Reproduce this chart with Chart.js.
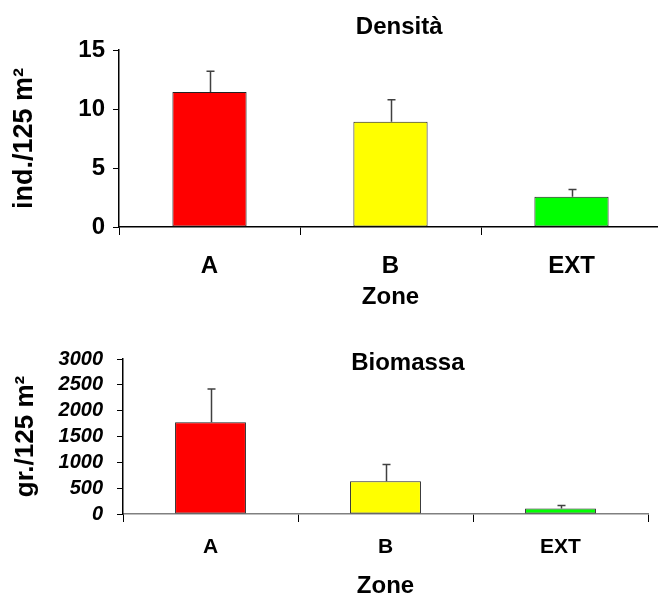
<!DOCTYPE html>
<html>
<head>
<meta charset="utf-8">
<script src="https://cdn.jsdelivr.net/npm/chart.js@4.4.1/dist/chart.umd.min.js"></script>
<style>
  html, body { margin: 0; padding: 0; background: #fff; overflow: hidden; width: 658px; height: 598px; }
  canvas { position: absolute; left: 0; }
  #c1 { top: 0; }
  #c2 { top: 315px; }
</style>
</head>
<body>
<canvas id="c1" width="665" height="315"></canvas>
<canvas id="c2" width="658" height="290"></canvas>
<script>
// ---- data ----
const zones = ['A', 'B', 'EXT'];
const barColors = ['#FF0000', '#FFFF00', '#00FF00'];

const densitaMean = [11.45, 8.92, 2.57];
const densitaErr  = [1.75, 1.86, 0.61];
const densitaTicks = [0, 5, 10, 15];

const biomassaMean = [1778, 634, 105];
const biomassaErr  = [640, 324, 58];
const biomassaTicks = [0, 500, 1000, 1500, 2000, 2500, 3000];

const FONT = "'Liberation Sans', Arial, sans-serif";

// error bars (upper only) drawn through the scales
const errorBarPlugin = {
  id: 'errorBars',
  afterDatasetsDraw(chart, args, opts) {
    const ctx = chart.ctx;
    const meta = chart.getDatasetMeta(0);
    const yScale = chart.scales.y;
    const errs = opts.errors || [];
    const vals = chart.data.datasets[0].data;
    ctx.save();
    ctx.strokeStyle = opts.color || '#404040';
    ctx.lineWidth = opts.width || 1.5;
    meta.data.forEach((bar, i) => {
      const x = Math.round(bar.x) + 0.5;
      const yTop = yScale.getPixelForValue(vals[i] + errs[i]);
      const yBase = yScale.getPixelForValue(vals[i]);
      ctx.beginPath();
      ctx.moveTo(x, yBase);
      ctx.lineTo(x, yTop);
      ctx.moveTo(x - (opts.cap || 4), yTop);
      ctx.lineTo(x + (opts.cap || 4), yTop);
      ctx.stroke();
    });
    ctx.restore();
  }
};

// panel title drawn as canvas text
const panelTitlePlugin = {
  id: 'panelTitle',
  afterDraw(chart, args, opts) {
    const ca = chart.chartArea;
    const ctx = chart.ctx;
    ctx.save();
    ctx.font = opts.font;
    ctx.fillStyle = '#000';
    ctx.textAlign = 'center';
    ctx.textBaseline = 'middle';
    ctx.fillText(opts.text, ca.left + opts.xFrac * (ca.right - ca.left), opts.y);
    ctx.restore();
  }
};

function makeChart(id, cfg) {
  return new Chart(document.getElementById(id), {
    type: 'bar',
    data: {
      labels: zones,
      datasets: [{
        data: cfg.values,
        backgroundColor: barColors,
        borderColor: '#222',
        borderWidth: 1,
        borderSkipped: false,
        barPercentage: cfg.barPct,
        categoryPercentage: 1.0
      }]
    },
    options: {
      responsive: false,
      animation: false,
      devicePixelRatio: 1,
      layout: { padding: cfg.padding },
      plugins: {
        legend: { display: false },
        tooltip: { enabled: false },
        title: { display: false },
        errorBars: { errors: cfg.errors, color: '#404040', width: 1.5, cap: 4 },
        panelTitle: cfg.title
      },
      scales: {
        x: {
          grid: { display: true, drawOnChartArea: false, drawTicks: true, tickLength: 8, color: '#000', offset: true },
          border: { display: true, color: cfg.xBorderColor, width: 1.5 },
          ticks: { color: '#000', font: { family: FONT, size: cfg.xFontSize, weight: 'bold' }, padding: cfg.xTickPad },
          title: { display: true, text: 'Zone', color: '#000', font: { family: FONT, size: 24, weight: 'bold' }, padding: { top: 0, bottom: cfg.zonePadBottom } },
          afterFit(scale) { scale.height = cfg.xHeight; }
        },
        y: {
          min: cfg.ticks[0],
          max: cfg.ticks[cfg.ticks.length - 1],
          afterBuildTicks(scale) { scale.ticks = cfg.ticks.map(v => ({ value: v })); },
          grid: { display: true, drawOnChartArea: false, drawTicks: true, tickLength: 6, color: '#000' },
          border: { display: true, color: '#000', width: 1.5 },
          ticks: {
            color: '#000',
            autoSkip: false,
            font: { family: FONT, size: cfg.yFontSize, weight: 'bold', style: cfg.yFontStyle, lineHeight: 1.0 },
            padding: cfg.yTickPad,
            callback: (v) => String(v)
          },
          title: { display: true, text: cfg.yTitle, color: '#000', font: { family: FONT, size: cfg.yTitleSize, weight: 'bold' }, padding: { top: cfg.yTitlePad, bottom: 0 } },
          afterFit(scale) { scale.width = cfg.yWidth; }
        }
      }
    },
    plugins: [errorBarPlugin, panelTitlePlugin]
  });
}

makeChart('c1', {
  values: densitaMean,
  errors: densitaErr,
  ticks: densitaTicks,
  barPct: 0.41,
  padding: { top: 50, right: 3, left: 0, bottom: 0 },
  xHeight: 88,
  xFontSize: 24,
  xTickPad: 17,
  zonePadBottom: 3,
  xBorderColor: '#000',
  yWidth: 119,
  yFontSize: 24,
  yFontStyle: 'normal',
  yTickPad: 8,
  yTitle: 'ind./125 m²',
  yTitleSize: 27,
  yTitlePad: 8,
  title: { text: 'Densità', font: "bold 24px " + FONT, xFrac: 0.516, y: 27 }
});

makeChart('c2', {
  values: biomassaMean,
  errors: biomassaErr,
  ticks: biomassaTicks,
  barPct: 0.405,
  padding: { top: 44, right: 10, left: 0, bottom: 0 },
  xHeight: 91,
  xFontSize: 21,
  xTickPad: 13,
  zonePadBottom: 4,
  xBorderColor: '#808080',
  yWidth: 123,
  yFontSize: 20,
  yFontStyle: 'italic',
  yTickPad: 14,
  yTitle: 'gr./125 m²',
  yTitleSize: 26,
  yTitlePad: 10,
  title: { text: 'Biomassa', font: "bold 24px " + FONT, xFrac: 0.5426, y: 48 }
});
</script>
</body>
</html>
